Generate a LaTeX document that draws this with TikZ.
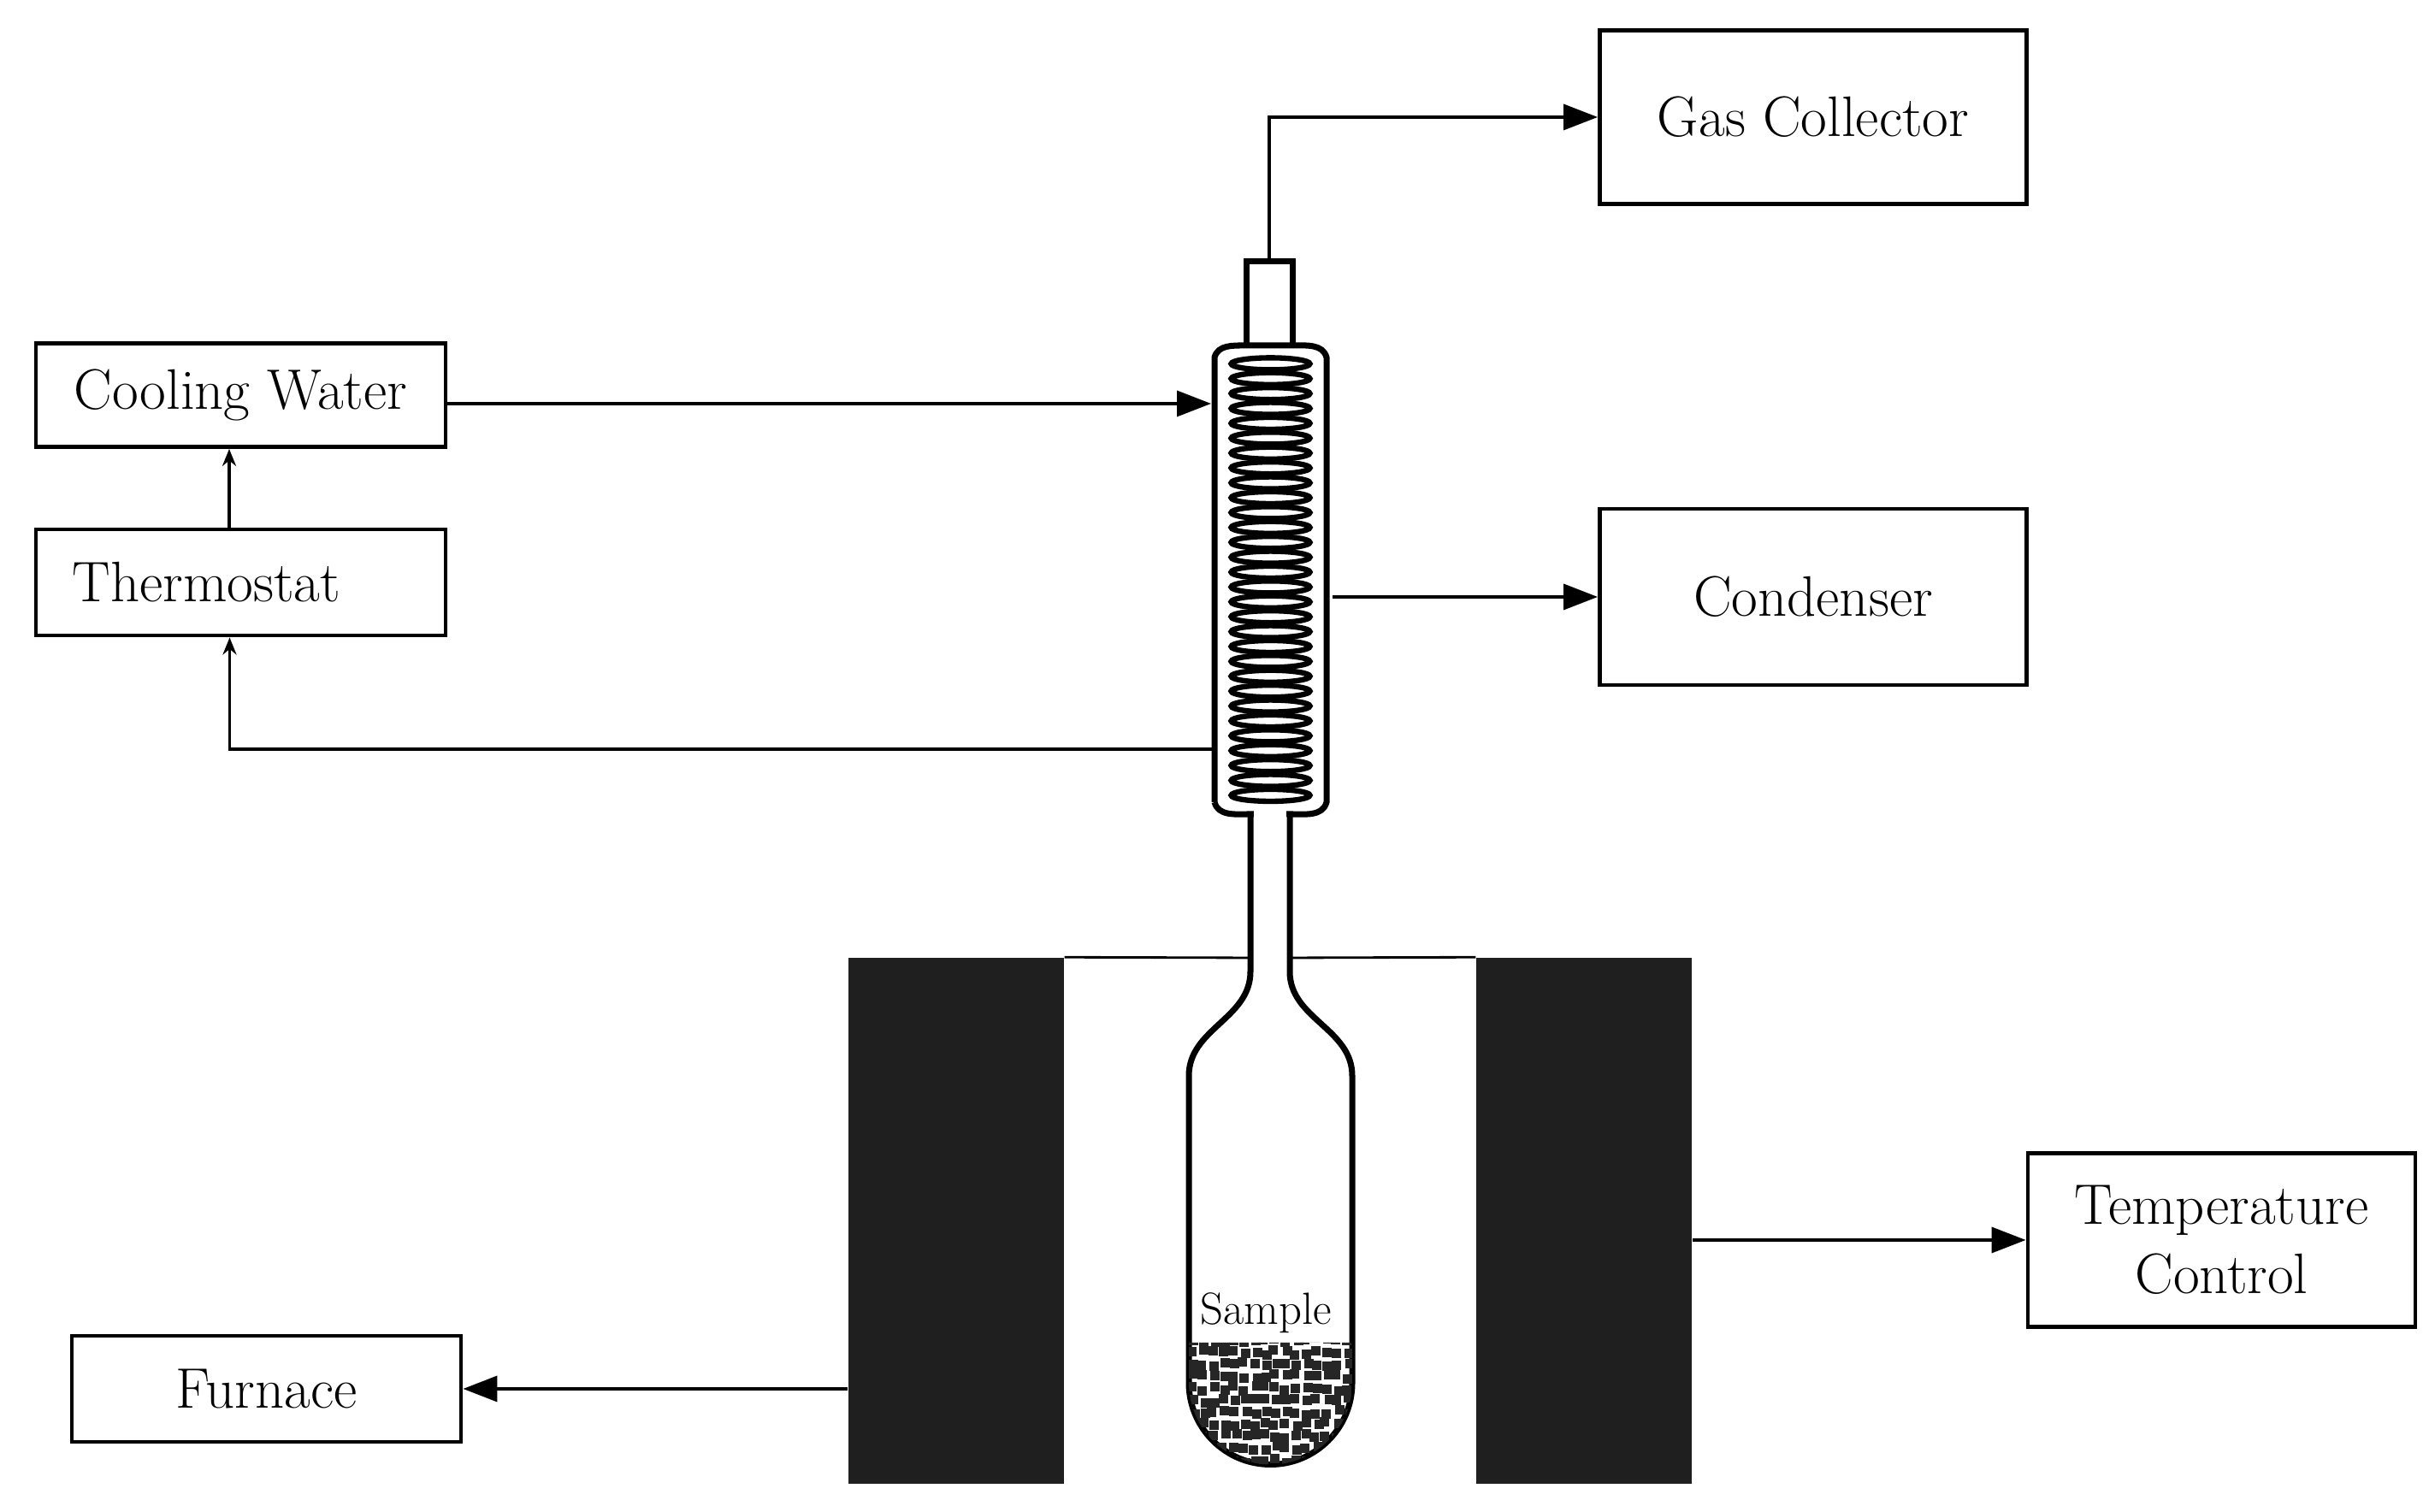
\documentclass[tikz,border=0pt]{standalone}
\usepackage{tikz}
\usetikzlibrary{arrows.meta}
\newcommand{\UnitBox}[5]{%
  \node (#1) [unit, minimum width=#2, minimum height=#3] at #4 {#5};
}
\begin{document}
\begin{tikzpicture}[
    unit/.style={draw, line width=1.4pt, align=center, inner sep=0pt,
      font=\fontsize{19}{23}\selectfont},
    flow/.style={line width=1pt, -{Triangle[length=4mm,width=3mm]}},
    thin flow/.style={line width=1pt, -{Stealth[length=2mm,width=1.6mm,open]}},
    glass/.style={line width=2pt}]
    \useasboundingbox (0,0) rectangle (28.4,17.68);

    \UnitBox{gas}{4.99cm}{2.03cm}{(21.2,16.31)}{Gas Collector}
    \UnitBox{cond}{4.99cm}{2.06cm}{(21.2,10.70)}{Condenser}
    \UnitBox{cool}{4.79cm}{1.21cm}{(2.815,13.06)}{Cooling Water}
    \UnitBox{thermo}{4.79cm}{1.24cm}{(2.815,10.87)}{Thermostat\hspace{1.2em}}
    \UnitBox{temp}{4.53cm}{2.03cm}{(25.975,3.18)}{Temperature\\Control}
    \UnitBox{furn}{4.55cm}{1.24cm}{(3.115,1.44)}{Furnace}

    % furnace walls
    \node (wallL) [fill=black!88, minimum width=2.52cm, minimum height=6.15cm,
      inner sep=0pt] at (11.18,3.405) {};
    \node (wallR) [fill=black!88, minimum width=2.52cm, minimum height=6.15cm,
      inner sep=0pt] at (18.52,3.405) {};
    \draw[line width=0.8pt] (wallL.north east) -- (14.62,6.48);
    \draw[line width=0.8pt] (15.08,6.48) -- (wallR.north west);

    % condenser jacket and tubes
    \draw[glass] (14.57,13.62) -- (14.57,14.62) -- (15.11,14.62) -- (15.11,13.62);
    \draw[glass] (14.20,8.30) -- (14.20,13.50) to[out=75,in=180] (14.57,13.64)
      -- (15.11,13.64) to[out=0,in=105] (15.51,13.50) -- (15.51,8.30)
      to[out=255,in=0] (15.08,8.16) -- (14.62,8.16) to[out=180,in=285] (14.20,8.30);
    \fill[white] (14.66,8.08) rectangle (15.04,8.24);
    \foreach \k in {0,...,29}
      \draw[line width=1.8pt] (14.855,8.38+0.174*\k) ellipse (0.46 and 0.07);
    \draw[glass] (14.62,8.16) -- (14.62,6.32) to[out=270,in=90] (13.90,5.10)
      -- (13.90,1.51) arc (180:360:0.955) -- (15.81,5.10)
      to[out=90,in=270] (15.08,6.32) -- (15.08,8.16);
    \coordinate (top) at (14.84,14.62);
    \coordinate (inlet) at (14.16,12.96);
    \coordinate (outlet) at (14.18,8.92);
    \coordinate (side) at (15.58,10.70);

    % sample
    \node (sample) at (14.80,2.33) {\fontsize{15}{17}\selectfont Sample};
    \begin{scope}
      \clip (13.90,1.98) -- (13.90,1.51) arc (180:360:0.955) -- (15.81,1.98) -- cycle;
      \pgfmathsetseed{7}
      \foreach \i in {0,...,15}
        \foreach \j in {0,...,10}
          \fill[black!85] (13.90+0.12*\i+0.03*rand,0.55+0.14*\j+0.03*rand)
            rectangle ++(0.11,0.11);
    \end{scope}

    % connectors
    \draw[flow] (top) |- (gas.west);
    \draw[flow] (cool.east |- inlet) -- (inlet);
    \draw[flow] (side) -- (cond.west);
    \draw[thin flow] (outlet) -| ([xshift=-1.3mm]thermo.south);
    \draw[thin flow] (thermo.north -| 2.68,0) -- (cool.south -| 2.68,0);
    \draw[flow] (wallR.east |- temp.west) -- (temp.west);
    \draw[flow] (wallL.west |- furn.east) -- (furn.east);
\end{tikzpicture}
\end{document}
